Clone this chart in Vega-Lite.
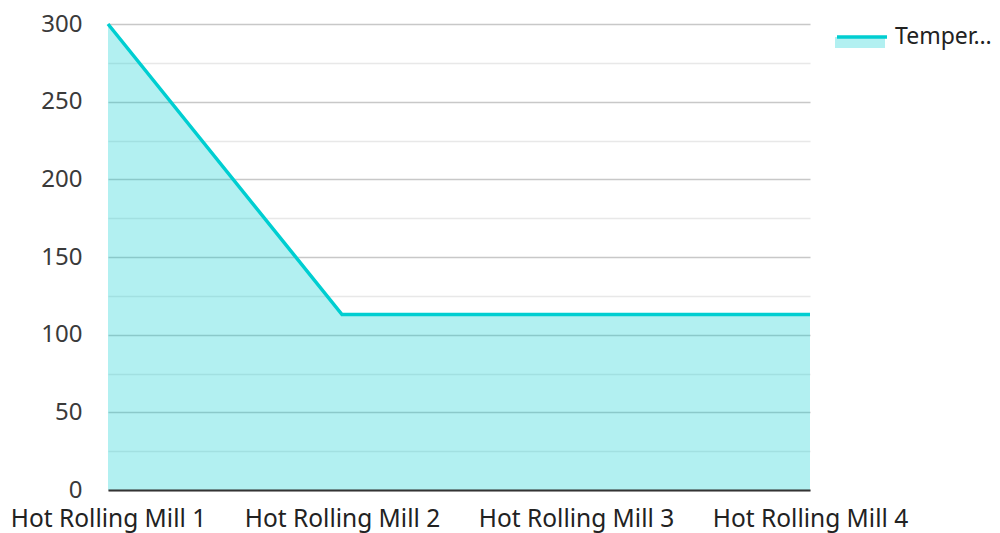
{
  "$schema": "https://vega.github.io/schema/vega-lite/v6.json",
  "width": 702,
  "height": 466,
  "autosize": {"type": "none"},
  "padding": {"left": 108, "top": 24, "right": 190, "bottom": 43},
  "background": "white",
  "config": {
    "view": {"stroke": null},
    "font": "Noto Sans",
    "axis": {"labelFont": "Noto Sans", "labelColor": "#333333", "titleFont": "Noto Sans"},
    "legend": {"labelFont": "Noto Sans", "labelColor": "#333333"}
  },
  "data": {
    "values": [
      {"mill": "Hot Rolling Mill 1", "temp": 300, "series": "Temperature"},
      {"mill": "Hot Rolling Mill 2", "temp": 113, "series": "Temperature"},
      {"mill": "Hot Rolling Mill 3", "temp": 113, "series": "Temperature"},
      {"mill": "Hot Rolling Mill 4", "temp": 113, "series": "Temperature"}
    ]
  },
  "encoding": {
    "x": {
      "field": "mill",
      "type": "ordinal",
      "scale": {"type": "point", "padding": 0},
      "axis": {
        "title": null,
        "labelAngle": 0,
        "ticks": false,
        "grid": false,
        "domainColor": "#333333",
        "domainWidth": 2,
        "labelPadding": 17,
        "labelFontSize": 24.5,
        "labelLimit": 400,
        "labelColor": "#222222",
        "zindex": 1
      }
    },
    "y": {
      "field": "temp",
      "type": "quantitative",
      "scale": {"domain": [0, 300], "nice": false},
      "axis": {
        "title": null,
        "values": [0, 25, 50, 75, 100, 125, 150, 175, 200, 225, 250, 275, 300],
        "labelExpr": "datum.value % 50 === 0 ? datum.label : ''",
        "ticks": false,
        "domain": false,
        "labelPadding": 26,
        "labelFontSize": 24,
        "labelColor": "#3a3a3a",
        "grid": true,
        "gridColor": {"condition": {"test": "datum.value % 50 === 0", "value": "#c8c8c8"}, "value": "#e8e8e8"},
        "gridWidth": 1.5
      }
    }
  },
  "layer": [
    {
      "mark": {"type": "area", "fillOpacity": 0.3},
      "encoding": {
        "fill": {
          "field": "series",
          "type": "nominal",
          "scale": {"range": ["#00CED1"]},
          "legend": {
            "title": null,
            "orient": "none",
            "legendX": 727,
            "legendY": -14,
            "symbolType": "M -1 0.08 H 1 V 0.52 H -1 Z",
            "symbolSize": 2500,
            "symbolOpacity": 0.3,
            "symbolStrokeWidth": 0,
            "labelOpacity": 0,
            "labelOffset": 6,
            "labelFontSize": 23,
            "labelLimit": 108
          }
        }
      }
    },
    {
      "mark": {"type": "line", "strokeWidth": 3.5},
      "encoding": {
        "stroke": {
          "field": "series",
          "type": "nominal",
          "scale": {"range": ["#00CED1"]},
          "legend": {
            "title": null,
            "orient": "none",
            "legendX": 727,
            "legendY": -14,
            "symbolType": "stroke",
            "symbolSize": 2500,
            "symbolStrokeWidth": 3.5,
            "labelOffset": 6,
            "labelFontSize": 23,
            "labelColor": "#222222",
            "labelLimit": 108
          }
        }
      }
    }
  ]
}
